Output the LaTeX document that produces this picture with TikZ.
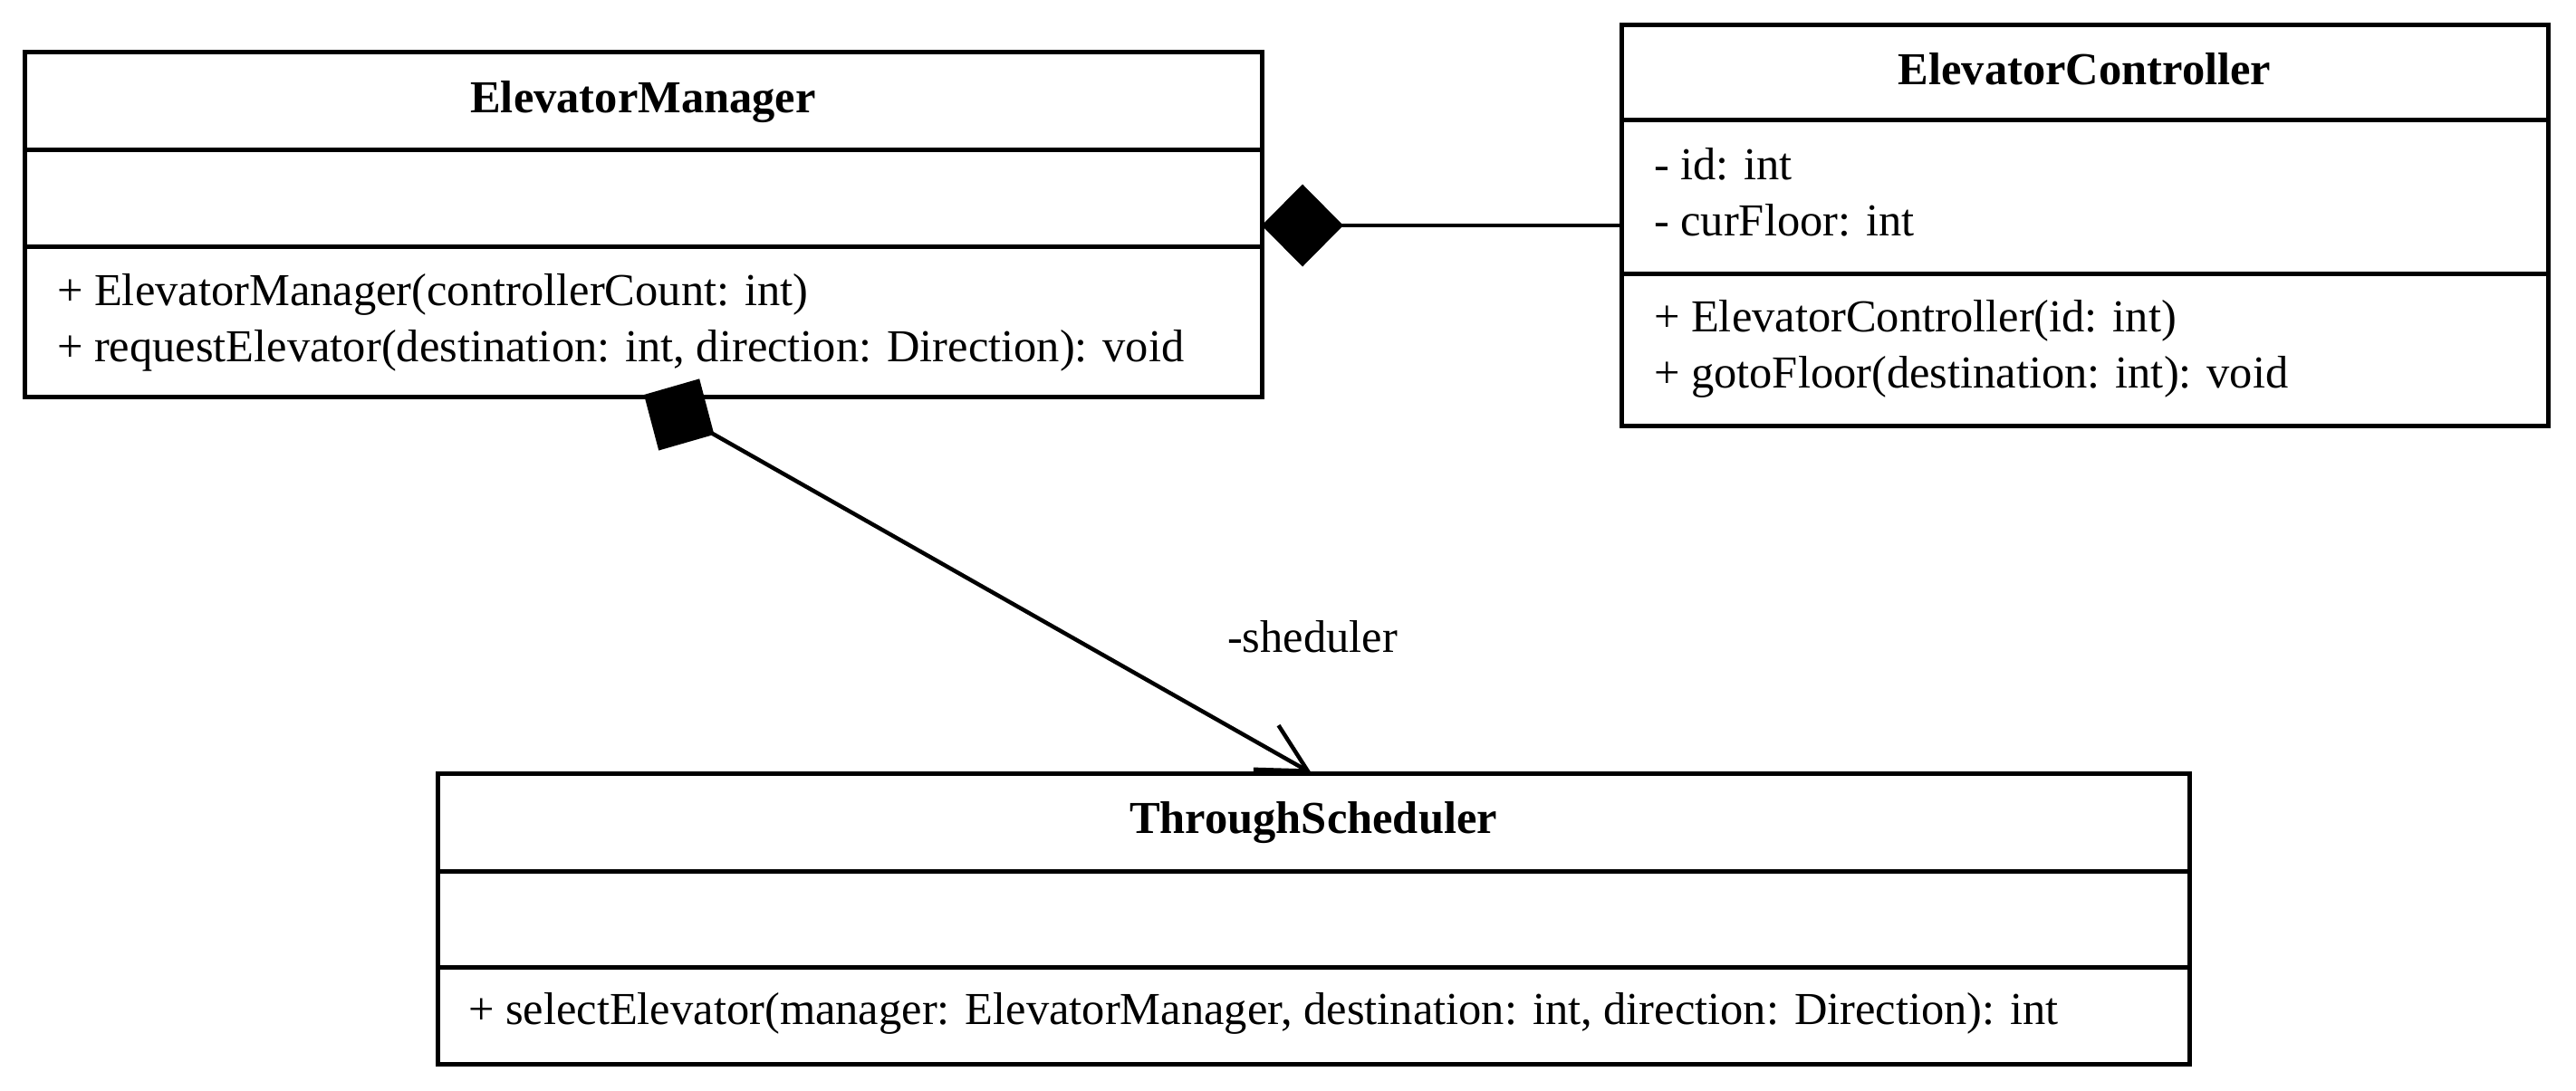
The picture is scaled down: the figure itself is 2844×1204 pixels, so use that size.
\documentclass[tikz,border=0pt]{standalone}
\usepackage{fontspec}
\setmainfont{Liberation Serif}
\usetikzlibrary{arrows.meta}
\begin{document}
\begin{tikzpicture}[x=1pt,y=-1pt,
  umlbox/.style={draw, line width=5pt, anchor=north west, inner sep=0pt, outer sep=0pt},
  txt/.style={font=\fontsize{50.5}{61}\selectfont, inner sep=0pt, outer sep=0pt, text height=38pt, text depth=13pt, anchor=west},
  ttl/.style={font=\fontsize{50.5}{61}\selectfont\bfseries, inner sep=0pt, outer sep=0pt, text height=38pt, text depth=13pt, anchor=center},
  sep/.style={line width=5pt},
  conn/.style={line width=4.5pt, line join=miter}
]
\useasboundingbox (0,0) rectangle (2844,1204);

% ElevatorManager
\node[umlbox, minimum width=1366pt, minimum height=380pt] (EM) at (27,58) {};
\draw[sep] ([yshift=-107pt]EM.north west) -- ([yshift=-107pt]EM.north east);
\draw[sep] ([yshift=-214pt]EM.north west) -- ([yshift=-214pt]EM.north east);
\node[ttl] (EMt) at (710,112) {ElevatorManager};
\node[txt] (EMm1) at (63,325) {+ ElevatorManager(controllerCount: int)};
\node[txt] (EMm2) at (63,387) {+ requestElevator(destination: int, direction: Direction): void};

% ElevatorController
\node[umlbox, minimum width=1023pt, minimum height=442pt] (EC) at (1790,28) {};
\draw[sep] ([yshift=-105pt]EC.north west) -- ([yshift=-105pt]EC.north east);
\draw[sep] ([yshift=-274pt]EC.north west) -- ([yshift=-274pt]EC.north east);
\node[ttl] (ECt) at (2301.5,81) {ElevatorController};
\node[txt] (ECa1) at (1826,186) {- id: int};
\node[txt] (ECa2) at (1826,248) {- curFloor: int};
\node[txt] (ECm1) at (1826,354) {+ ElevatorController(id: int)};
\node[txt] (ECm2) at (1826,416) {+ gotoFloor(destination: int): void};

% ThroughScheduler
\node[umlbox, minimum width=1934pt, minimum height=321pt] (TS) at (483,854) {};
\draw[sep] ([yshift=-108pt]TS.north west) -- ([yshift=-108pt]TS.north east);
\draw[sep] ([yshift=-214pt]TS.north west) -- ([yshift=-214pt]TS.north east);
\node[ttl] (TSt) at (1450,908) {ThroughScheduler};
\node[txt] (TSm1) at (517,1119) {+ selectElevator(manager: ElevatorManager, destination: int, direction: Direction): int};

% connectors
\draw[conn, -{Turned Square[length=90pt,width=91pt]}] (EC.west) -- (EC.west -| EM.east);
\draw[conn, {Straight Barb[length=53pt,width=56pt]}-{Turned Square[length=89pt,width=91pt]}]
  ([xshift=965pt]TS.north west) -- ([xshift=684pt,yshift=2pt]EM.south west);
\node[font=\fontsize{50.5}{61}\selectfont, inner sep=0pt, text height=38pt, text depth=13pt] (lbl) at (1449,708) {-sheduler};
\end{tikzpicture}
\end{document}
